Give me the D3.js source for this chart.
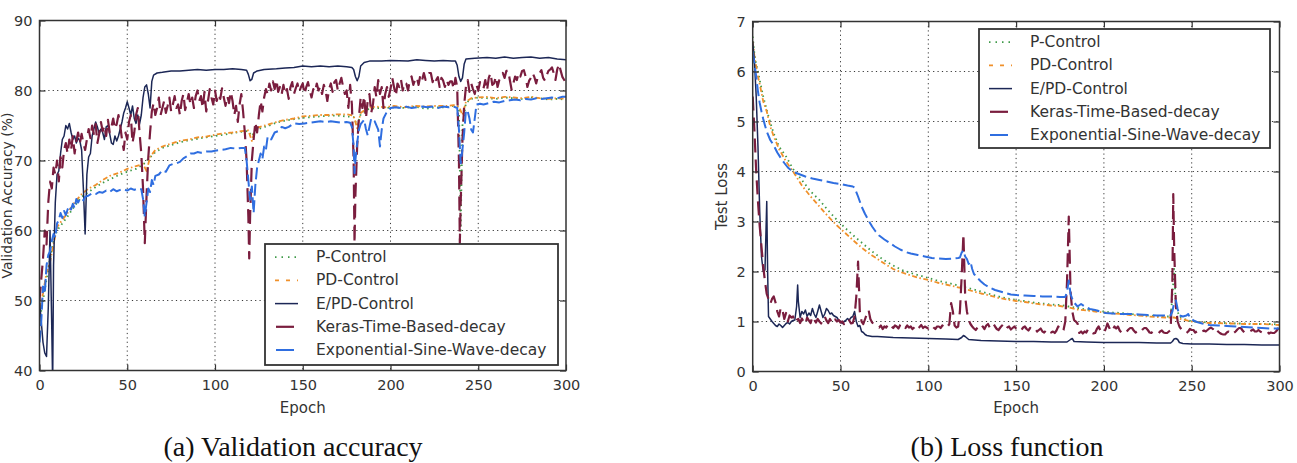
<!DOCTYPE html>
<html><head><meta charset="utf-8">
<script src="https://cdn.jsdelivr.net/npm/d3@7"></script>
<style>body{margin:0;background:#fff;} svg{display:block;}</style>
</head><body>
<svg id="c" width="1297" height="463"></svg>
<script>
// ---------------- DATA ----------------
const seriesNames = ["P-Control","PD-Control","E/PD-Control","Keras-Time-Based-decay","Exponential-Sine-Wave-decay"];
const xTicks = [0,50,100,150,200,250,300];
const accTicks = [40,50,60,70,80,90];
const lossTicks = [0,1,2,3,4,5,6,7];
const captions = ["(a) Validation accuracy","(b) Loss function"];
const axisLabels = {x:"Epoch", acc:"Validation Accuracy (%)", loss:"Test Loss"};

// Validation accuracy (%), [epoch, value]
const accP = [[0,47],[2,50],[4,53],[6,56],[8,58.5],[10,60],[13,61],[16,62],[20,63.5],[24,64.8],[28,65.5],[32,66.2],[36,66.8],[40,67.3],[45,67.9],[50,68.4],[55,68.8],[59,69.4],[62,70.2],[66,71.2],[70,71.8],[75,72.2],[80,72.6],[85,72.9],[90,73.1],[95,73.3],[100,73.5],[105,73.7],[110,73.9],[115,74.1],[119,74.2],[121,73.5],[123,74.3],[127,74.7],[131,75.0],[135,75.4],[140,75.7],[145,75.9],[150,76.1],[155,76.2],[160,76.3],[165,76.4],[170,76.4],[175,76.3],[179,76.2],[181,75.0],[183,76.6],[187,77.3],[192,77.5],[197,77.5],[202,77.6],[208,77.5],[214,77.7],[220,77.4],[226,77.6],[232,77.6],[236,77.8],[239,77.6],[240,60],[241,75],[243,78.2],[246,78.8],[250,79.0],[255,78.9],[260,78.8],[265,79.0],[270,78.9],[275,78.8],[280,79.0],[285,78.9],[290,78.7],[295,78.8],[300,78.7]];
const accPD = [[0,49],[2,51],[4,54],[6,55.5],[8,58],[10,60.5],[13,61.5],[16,62.5],[20,64],[24,65.2],[28,66],[32,66.5],[36,67.2],[40,67.8],[45,68.2],[50,68.8],[55,69.2],[59,69.5],[61,68.5],[63,70.5],[66,71.5],[70,72],[75,72.4],[80,72.8],[85,73],[90,73.3],[95,73.4],[100,73.7],[105,73.9],[110,74],[115,74.2],[119,74.3],[121,72.8],[123,74.6],[127,74.9],[131,75.2],[135,75.5],[140,75.8],[145,76.0],[150,76.3],[155,76.4],[160,76.5],[165,76.5],[170,76.6],[175,76.6],[179,76.4],[181,74.6],[183,76.8],[187,77.5],[192,77.7],[197,77.6],[202,77.8],[208,77.6],[214,77.8],[220,77.7],[226,77.8],[232,77.8],[236,77.9],[239,77.7],[241,76.5],[243,78.4],[246,78.9],[250,79.0],[255,79.1],[260,78.9],[265,79.1],[270,79.0],[275,78.9],[280,79.1],[285,78.9],[290,78.8],[295,78.9],[300,78.8]];
const accEPD = [[0,50],[1,47],[2,44],[3,42.5],[4,42],[5,49],[6,60],[7,46],[7.5,38],[8,55],[9,64],[10,68],[11,68.5],[12,71],[13,73],[14,73.5],[15,75],[16,74.5],[17,75.3],[18,74],[19,73],[20,73.5],[21,72.5],[22,73.2],[23,72.8],[24,71.5],[25,66],[26,59.5],[27,68],[28,70.5],[29,71],[30,73.5],[31,74.5],[32,75.5],[33,74.8],[34,73.8],[35,74.5],[36,74],[37,73],[38,74.8],[39,75],[40,73.8],[41,72.5],[42,72.3],[43,73.5],[44,72.8],[45,73.5],[46,74.5],[47,75.5],[48,76.8],[49,77.5],[50,78.4],[51,77.5],[52,76.5],[53,77.8],[54,76],[55,75.3],[56,76.5],[57,75.2],[58,76.5],[59,79],[60,80.5],[61,80.8],[62,79.5],[63,77.5],[64,81.3],[65,82.2],[67,82.5],[70,82.6],[75,82.8],[80,82.8],[85,82.9],[90,83],[95,82.9],[100,83],[105,83],[110,83.1],[115,83],[118,82.9],[119,82.3],[120,81.4],[121,81.6],[122,82.5],[124,82.8],[128,83.0],[135,83.1],[140,83.2],[145,83.3],[150,83.5],[155,83.4],[160,83.5],[165,83.4],[170,83.5],[175,83.4],[178,83.3],[179,83.0],[180,82.0],[181,81.4],[182,82.0],[183,83.5],[185,84.0],[188,84.2],[195,84.2],[200,84.3],[210,84.2],[215,84.4],[220,84.3],[225,84.2],[230,84.3],[235,84.2],[237,84.2],[238,83.6],[239,82.0],[240,81.3],[241,81.8],[242,83.8],[243,84.5],[248,84.6],[255,84.7],[260,84.6],[265,84.8],[270,84.6],[275,84.7],[280,84.8],[285,84.6],[290,84.7],[295,84.5],[300,84.4]];
const accKeras = [[0,50],[1,53],[2,56],[3,60],[4,58],[5,64],[6,67],[7,66],[8,69],[9,68],[10,70],[11,67],[12,70.5],[13,69],[14,71.5],[15,72.5],[16,71],[17,73],[18,71.5],[19,73.5],[20,71],[21,72.8],[22,74],[23,72.5],[24,73.8],[25,72.5],[26,71.5],[27,73],[28,74.5],[29,73.2],[30,75],[31,73.8],[32,75.2],[33,72.5],[34,73.8],[35,75.5],[36,74.2],[37,75],[38,73.5],[39,75.8],[40,74],[41,74.8],[42,76],[43,74.5],[44,75.2],[45,76.5],[46,75],[47,73],[48,71.5],[49,74],[50,73],[51,75.5],[52,76.5],[53,72.5],[54,74],[55,76.5],[56,77.5],[57,74],[58,71],[59,66],[60,58.2],[61,65],[62,70.5],[63,74],[64,77],[65,78.2],[66,76.5],[67,77.5],[68,79],[69,76.5],[70,77.5],[71,78.5],[72,76.8],[73,77.8],[74,79],[75,77],[76,78],[77,79.2],[78,77.5],[79,78],[80,76.5],[81,78.5],[82,79.5],[83,77.2],[84,78.3],[85,79.5],[86,78],[87,79],[88,77.5],[89,79.2],[90,80],[91,78.5],[92,79.2],[93,77.5],[94,79.8],[95,77],[96,78.5],[97,80.2],[98,79],[99,78],[100,80],[101,78.5],[102,79.5],[103,78.8],[104,80.3],[105,79],[106,77.8],[107,79.2],[108,78.2],[109,79.8],[110,78.5],[111,76.5],[112,77.8],[113,75.5],[114,78],[115,79.5],[116,77],[117,74],[118,70],[119,62],[119.5,56],[120,62],[121,70],[122,73],[123,75.5],[124,74],[125,76.5],[126,78.5],[127,77],[128,79],[129,80.2],[130,79.5],[131,81],[132,80],[133,81.3],[134,80.2],[135,81.5],[136,79.8],[137,80.5],[138,79.5],[139,80.8],[140,79.5],[141,80.2],[142,78.8],[143,80.5],[144,81.2],[145,79.5],[146,80.3],[147,81],[148,79.8],[149,80.5],[150,81],[151,79.5],[152,80.5],[153,81.2],[154,80],[155,79],[156,80.2],[157,79.8],[158,81],[159,80],[160,80.6],[161,79.5],[162,80.8],[163,80],[164,78.5],[165,80.2],[166,81],[167,79.8],[168,81.2],[169,81.5],[170,80],[171,81],[172,81.8],[173,80.5],[174,79.5],[175,80],[176,77.5],[177,80.8],[178,78],[179,70],[179.5,58.2],[180,65],[181,72],[182,76.2],[183,79],[184,77.5],[185,79.2],[186,76],[187,78.5],[188,79.5],[189,76.8],[190,78],[191,80.5],[192,79],[193,81.5],[194,79.5],[195,80.5],[196,77.5],[197,79.5],[198,80.5],[199,79.1],[200,80.2],[201,81.8],[202,80.5],[203,79.2],[204,81],[205,80.5],[206,81.5],[207,80],[208,81.2],[209,81],[210,80],[211,81.5],[212,82],[213,80.8],[214,81.5],[215,81.9],[216,80.8],[217,82.2],[218,81.5],[219,82.5],[220,81.5],[221,82],[222,82.5],[223,82.5],[224,81.2],[225,82],[226,81.5],[227,81.9],[228,80.5],[229,81.8],[230,81.4],[231,80.5],[232,81.5],[233,80.8],[234,81.3],[235,81.3],[236,80.2],[237,81.8],[238,80.5],[239,70],[239.5,58.2],[240,64],[241,73],[242,78],[243,80.6],[244,81.5],[245,79.8],[246,81],[247,80.2],[248,79.5],[249,80.8],[250,80],[251,81.2],[252,80.5],[253,80.3],[254,81.5],[255,80],[256,81.8],[257,82.5],[258,80.8],[259,81],[260,82],[261,80.5],[262,81.5],[263,81.9],[264,82.5],[265,81.8],[266,82.8],[267,82.9],[268,81.5],[269,80.1],[270,81],[271,82],[272,81.5],[273,82.5],[274,82],[275,82.8],[276,82.9],[277,82],[278,80.5],[279,81.4],[280,81.8],[281,82.5],[282,81.9],[283,81],[284,82],[285,82.5],[286,82.9],[287,81.8],[288,81.4],[289,82.2],[290,82.8],[291,83],[292,83.3],[293,82.5],[294,81.5],[295,83],[296,83.8],[297,82.8],[298,81.9],[299,81.5],[300,80.8]];
const accExp = [[0,44],[1,47],[2,52],[3,51],[4,55],[5,56.5],[6,57],[7,58.5],[8,59.5],[9,59],[10,61],[11,61.5],[12,62.5],[13,61.8],[14,62.8],[15,62.2],[16,63],[17,63.5],[18,63],[19,63.8],[20,63.2],[21,64.5],[22,64],[23,64.5],[24,64.6],[25,64.3],[26,64.8],[28,65],[30,65.3],[32,65.2],[34,65.5],[36,65.4],[38,65.7],[40,65.5],[42,65.9],[44,65.6],[46,65.8],[48,65.9],[50,65.7],[52,66],[54,65.8],[56,66],[58,65.9],[59,64.5],[60,62],[61,64],[62,66],[63,65.5],[64,67.2],[65,66.5],[66,67.8],[68,68],[70,68.6],[72,68.4],[74,69.3],[76,69.5],[78,69.6],[80,69.8],[82,70.3],[84,70.6],[86,71],[88,71],[90,71.2],[92,71.1],[95,71.3],[98,71.3],[100,71.4],[103,71.5],[106,71.6],[109,71.8],[112,71.7],[115,71.8],[117,71.8],[118,70],[119,67.2],[120,64.4],[121,66.3],[122,62.5],[123,66.5],[124,69],[125,70],[126,71],[127,70.2],[128,72],[129,71.5],[130,73.4],[132,73],[134,74],[136,74.2],[138,74.8],[140,74.6],[142,74.8],[145,75.3],[148,75.2],[151,75.3],[154,75.4],[157,75.5],[160,75.6],[163,75.5],[166,75.6],[169,75.5],[172,75.4],[175,75.5],[177,75.4],[178,74.8],[179,72],[179.5,68.2],[180,70],[181,72.5],[182,74.4],[183,75.2],[185,75.8],[186,74.5],[187,73.6],[188,74.8],[189,76],[191,75.6],[193,74.4],[194,72],[195,74.4],[196,76],[198,77],[200,77.5],[203,77.6],[206,77.5],[209,77.7],[212,77.5],[215,77.6],[218,77.7],[221,77.6],[224,77.7],[227,77.5],[230,77.7],[233,77.6],[236,77.7],[238,77.5],[239,74.4],[240,69.6],[241,71.6],[242,74],[243,77.2],[244,77],[245,76],[246,74.4],[247,74],[248,76],[249,78],[251,78.1],[253,78],[256,78.2],[259,78.4],[262,78.3],[265,78.5],[268,78.6],[271,78.7],[274,78.6],[277,78.8],[280,78.7],[283,78.9],[286,78.8],[289,78.9],[292,79],[295,78.9],[298,79.1],[300,79.1]];

// Test loss, [epoch, value]
const lossP = [[0,6.7],[1,6.35],[2,6.15],[3,6.0],[4,5.83],[6,5.5],[8,5.23],[10,4.98],[12,4.76],[15,4.5],[19,4.3],[23,4.05],[28,3.83],[33,3.6],[38,3.43],[43,3.22],[48,3.03],[53,2.86],[58,2.7],[63,2.55],[68,2.4],[75,2.22],[80,2.12],[85,2.03],[90,1.97],[95,1.92],[100,1.87],[105,1.82],[110,1.78],[115,1.74],[119,1.7],[121,1.68],[125,1.65],[130,1.6],[135,1.55],[140,1.5],[145,1.46],[150,1.43],[155,1.41],[160,1.38],[165,1.36],[170,1.34],[175,1.33],[180,1.3],[185,1.27],[190,1.24],[195,1.22],[200,1.2],[205,1.18],[210,1.17],[215,1.15],[220,1.13],[225,1.12],[230,1.11],[235,1.1],[238,1.1],[239,1.5],[240,2.05],[241,1.3],[243,1.1],[246,1.05],[250,1.0],[255,0.99],[260,0.98],[265,0.97],[270,0.97],[275,0.96],[280,0.96],[285,0.95],[290,0.95],[295,0.95],[300,0.94]];
const lossPD = [[0,6.6],[1,6.3],[2,6.1],[3,5.9],[4,5.75],[6,5.4],[8,5.2],[10,4.9],[12,4.7],[15,4.45],[19,4.2],[23,4.0],[28,3.72],[33,3.5],[38,3.3],[43,3.1],[48,2.92],[53,2.76],[58,2.6],[63,2.45],[68,2.32],[75,2.16],[80,2.05],[85,1.98],[90,1.92],[95,1.87],[100,1.83],[105,1.78],[110,1.74],[115,1.7],[120,1.66],[125,1.61],[130,1.56],[135,1.52],[140,1.47],[145,1.44],[150,1.41],[155,1.39],[160,1.36],[165,1.34],[170,1.32],[175,1.31],[180,1.28],[185,1.24],[190,1.22],[195,1.2],[200,1.18],[205,1.16],[210,1.15],[215,1.13],[220,1.12],[225,1.1],[230,1.09],[235,1.08],[240,1.08],[245,1.04],[250,1.0],[255,0.98],[260,0.97],[265,0.97],[270,0.96],[275,0.96],[280,0.95],[285,0.95],[290,0.95],[295,0.94],[300,0.93]];
const lossEPD = [[0,6.6],[1,6.2],[2,5.5],[3,4.5],[4,3.2],[5,2.3],[6,2.0],[7,2.03],[8,3.4],[8.5,2.0],[9,1.1],[10,1.05],[11,1.0],[12,0.96],[13,0.92],[14,0.9],[15,0.95],[16,0.92],[17,0.88],[18,0.92],[19,0.96],[20,0.98],[21,0.95],[22,1.0],[23,1.02],[24,1.03],[25,1.3],[25.6,1.73],[26,1.4],[27,1.08],[28,1.2],[29,1.15],[30,1.23],[31,1.1],[32,1.17],[33,1.12],[34,1.26],[35,1.15],[36,1.08],[37,1.2],[38,1.33],[39,1.2],[40,1.08],[41,1.15],[42,1.26],[43,1.22],[44,1.15],[45,1.17],[46,1.12],[47,1.1],[48,1.08],[49,1.02],[50,1.0],[51,0.96],[52,1.0],[53,1.02],[54,1.06],[55,1.03],[56,1.08],[57,1.1],[58,1.2],[59,1.0],[60,0.9],[61,0.92],[62,0.8],[63,0.78],[64,0.74],[65,0.72],[68,0.7],[71,0.7],[80,0.68],[90,0.67],[100,0.66],[110,0.65],[117,0.64],[119,0.68],[120,0.72],[121,0.7],[123,0.64],[130,0.62],[140,0.61],[150,0.6],[160,0.6],[170,0.59],[179,0.59],[181,0.64],[182,0.66],[183,0.6],[190,0.59],[200,0.58],[210,0.58],[220,0.58],[230,0.57],[238,0.57],[239,0.6],[240,0.65],[241,0.66],[242,0.64],[243,0.58],[245,0.56],[250,0.55],[260,0.55],[270,0.54],[280,0.54],[290,0.53],[300,0.53]];
const lossKeras = [[0,5.5],[1,4.8],[2,4.0],[3,3.4],[4,2.9],[5,2.5],[6,2.1],[7,1.8],[8,1.55],[9,1.45],[10,1.35],[11,1.45],[12,1.5],[13,1.38],[14,1.2],[15,1.1],[16,1.28],[17,1.22],[18,1.05],[19,1.17],[20,1.0],[21,1.12],[22,1.08],[23,1.1],[24,0.98],[25,1.03],[26,1.05],[27,0.97],[28,1.06],[29,1.0],[30,0.95],[31,1.08],[32,1.02],[33,0.97],[34,1.1],[35,1.04],[36,0.98],[37,1.05],[38,1.0],[39,0.96],[40,1.06],[41,1.1],[42,1.02],[43,0.97],[44,1.05],[45,0.99],[46,0.96],[47,1.04],[48,1.0],[49,1.03],[50,0.98],[51,1.0],[52,0.95],[53,1.0],[54,0.97],[55,1.02],[56,0.96],[57,0.97],[58,1.1],[59,1.5],[60,2.2],[61,1.2],[62,1.0],[63,0.95],[64,1.05],[65,1.15],[66,1.23],[67,1.05],[68,0.98],[69,0.95],[70,0.93],[71,0.9],[72,0.88],[73,0.92],[74,0.85],[75,0.9],[76,0.88],[77,0.93],[78,0.96],[79,0.9],[80,0.87],[81,0.92],[82,0.9],[83,0.86],[84,0.93],[85,0.96],[86,0.9],[87,0.87],[88,0.92],[89,0.88],[90,0.9],[91,0.85],[92,0.88],[93,0.92],[94,0.86],[95,0.89],[96,0.93],[97,0.87],[98,0.9],[99,0.88],[100,0.86],[101,0.91],[102,0.92],[103,0.88],[104,0.85],[105,0.9],[106,0.9],[107,0.87],[108,0.92],[109,0.88],[110,0.92],[111,0.9],[112,0.95],[113,1.37],[114,1.2],[115,0.92],[116,0.88],[117,0.9],[118,1.2],[119,1.9],[120,2.75],[121,1.5],[122,1.2],[123,1.03],[124,0.95],[125,0.9],[126,0.86],[127,0.83],[128,0.88],[129,0.92],[130,0.87],[131,0.9],[132,0.85],[133,0.92],[134,0.95],[135,0.88],[136,0.92],[137,0.96],[138,0.9],[139,0.85],[140,0.83],[141,0.88],[142,0.92],[143,0.86],[144,0.83],[145,0.88],[146,0.9],[147,0.84],[148,0.87],[149,0.9],[150,0.86],[151,0.82],[152,0.85],[153,0.83],[154,0.88],[155,0.9],[156,0.85],[157,0.82],[158,0.87],[159,0.84],[160,0.82],[161,0.85],[162,0.8],[163,0.83],[164,0.86],[165,0.8],[166,0.78],[167,0.82],[168,0.85],[169,0.8],[170,0.78],[171,0.8],[172,0.77],[173,0.82],[174,0.9],[175,0.85],[176,0.8],[177,0.83],[178,1.0],[179,1.8],[180,3.1],[181,1.6],[182,1.2],[183,1.03],[184,1.0],[185,0.96],[186,0.77],[187,0.8],[188,0.76],[189,0.8],[190,0.78],[191,0.85],[192,0.8],[193,0.78],[194,0.76],[195,0.77],[196,0.85],[197,0.9],[198,0.82],[199,0.78],[200,0.77],[201,0.85],[202,0.96],[203,0.88],[204,0.8],[205,0.84],[206,0.9],[207,0.86],[208,0.9],[209,0.82],[210,0.78],[211,0.8],[212,0.77],[213,0.8],[214,0.84],[215,0.87],[216,0.87],[217,0.82],[218,0.78],[219,0.8],[220,0.77],[221,0.8],[222,0.84],[223,0.87],[224,0.87],[225,0.83],[226,0.78],[227,0.77],[228,0.8],[229,0.78],[230,0.77],[231,0.76],[232,0.8],[233,0.82],[234,0.78],[235,0.77],[236,0.77],[237,0.8],[238,0.83],[239,1.8],[239.5,3.55],[240,2.5],[241,1.3],[242,1.0],[243,0.9],[244,0.85],[245,0.8],[246,0.78],[247,0.77],[248,0.8],[249,0.85],[250,0.83],[251,0.83],[252,0.78],[253,0.8],[254,0.76],[255,0.77],[256,0.8],[257,0.82],[258,0.8],[259,0.83],[260,0.86],[261,0.88],[262,0.85],[263,0.9],[264,0.84],[265,0.8],[266,0.77],[267,0.75],[268,0.74],[269,0.74],[270,0.78],[271,0.8],[272,0.77],[273,0.8],[274,0.77],[275,0.8],[276,0.84],[277,0.87],[278,0.87],[279,0.82],[280,0.78],[281,0.77],[282,0.77],[283,0.8],[284,0.82],[285,0.84],[286,0.8],[287,0.8],[288,0.83],[289,0.8],[290,0.78],[291,0.77],[292,0.77],[293,0.8],[294,0.76],[295,0.78],[296,0.77],[297,0.77],[298,0.8],[299,0.85],[300,0.9]];
const lossExp = [[0,6.4],[1,6.15],[2,5.9],[3,5.6],[4,5.37],[5,5.2],[6,5.05],[7,4.92],[8,4.8],[10,4.63],[12,4.52],[14,4.38],[16,4.27],[18,4.17],[20,4.08],[22,4.02],[24,3.98],[27,3.94],[30,3.9],[34,3.86],[38,3.83],[42,3.8],[46,3.77],[50,3.75],[54,3.72],[57,3.7],[58,3.68],[60,3.5],[62,3.3],[64,3.15],[66,3.02],[68,2.9],[70,2.8],[72,2.72],[75,2.64],[78,2.57],[81,2.5],[84,2.44],[87,2.39],[90,2.36],[94,2.33],[98,2.3],[102,2.27],[106,2.26],[110,2.25],[114,2.26],[117,2.27],[118,2.28],[119,2.38],[120,2.42],[121,2.3],[122,2.25],[123,2.15],[124,2.2],[125,2.05],[126,1.95],[128,1.87],[130,1.8],[132,1.74],[135,1.68],[138,1.63],[141,1.6],[144,1.57],[147,1.54],[150,1.53],[155,1.52],[160,1.51],[165,1.5],[170,1.5],[175,1.49],[178,1.49],[179,1.6],[180,1.82],[181,1.55],[182,1.45],[183,1.38],[185,1.3],[187,1.35],[189,1.3],[192,1.25],[195,1.23],[198,1.2],[201,1.17],[205,1.16],[210,1.15],[215,1.15],[220,1.14],[225,1.13],[230,1.12],[235,1.12],[238,1.12],[239,1.2],[240,1.38],[241,1.42],[242,1.25],[243,1.12],[245,1.1],[247,1.12],[248,1.15],[249,1.08],[251,1.02],[253,0.99],[256,0.96],[260,0.93],[265,0.92],[270,0.91],[275,0.9],[280,0.89],[285,0.88],[290,0.87],[295,0.86],[300,0.86]];

// ---------------- STYLES ----------------
const styles = [
  {color:"#3f9a48", width:1.8, dash:"1.5,3.5", legendDash:"1.5,5"},
  {color:"#f0902a", width:1.8, dash:"5,2.5,1.5,2.5", legendDash:"4,7"},
  {color:"#1c2756", width:1.5, dash:null, legendDash:null},
  {color:"#7a1d3e", width:2.2, dash:"14,7", legendDash:null},
  {color:"#2f6ee0", width:2.0, dash:"12,4.5", legendDash:null}
];

const svg = d3.select("#c");
const FONT = "'DejaVu Sans', sans-serif";
const TXT = "#333";

function panel(cfg){
  const g = svg.append("g");
  const x = d3.scaleLinear().domain([0,300]).range([cfg.left, cfg.right]);
  const y = d3.scaleLinear().domain(cfg.yDomain).range([cfg.bottom, cfg.top]);

  // grid
  const grid = g.append("g").attr("stroke","#222").attr("stroke-width",0.9).attr("stroke-dasharray","1.2,3.2");
  xTicks.slice(1,-1).forEach(t=>grid.append("line").attr("x1",x(t)).attr("x2",x(t)).attr("y1",cfg.top).attr("y2",cfg.bottom));
  cfg.yTicks.slice(1,-1).forEach(t=>grid.append("line").attr("x1",cfg.left).attr("x2",cfg.right).attr("y1",y(t)).attr("y2",y(t)));

  // clip
  const cid = "clip"+cfg.id;
  svg.append("clipPath").attr("id",cid).append("rect")
    .attr("x",cfg.left).attr("y",cfg.top).attr("width",cfg.right-cfg.left).attr("height",cfg.bottom-cfg.top);

  const line = d3.line().x(d=>x(d[0])).y(d=>y(d[1]));
  const lg = g.append("g").attr("clip-path",`url(#${cid})`);
  cfg.series.forEach((s,i)=>{
    const st = styles[i];
    lg.append("path").datum(s).attr("d",line).attr("fill","none")
      .attr("stroke",st.color).attr("stroke-width",st.width)
      .attr("stroke-dasharray",st.dash).attr("stroke-linejoin","round");
  });

  // axes (inward ticks, on all four sides)
  const fmt = d3.format("d");
  const ax = (gen, tr) => {
    const a = g.append("g").attr("transform",tr).call(gen);
    a.select(".domain").remove();
    a.selectAll(".tick line").attr("stroke","#333").attr("stroke-width",1.2);
    a.selectAll("text").attr("font-family",FONT).attr("font-size","14.5px").attr("fill",TXT);
    return a;
  };
  ax(d3.axisBottom(x).tickValues(xTicks).tickFormat(fmt).tickSizeInner(-6).tickSizeOuter(0).tickPadding(9), `translate(0,${cfg.bottom})`);
  ax(d3.axisTop(x).tickValues(xTicks).tickFormat("").tickSizeInner(-6).tickSizeOuter(0), `translate(0,${cfg.top})`);
  ax(d3.axisLeft(y).tickValues(cfg.yTicks).tickFormat(fmt).tickSizeInner(-6).tickSizeOuter(0).tickPadding(7), `translate(${cfg.left},0)`);
  ax(d3.axisRight(y).tickValues(cfg.yTicks).tickFormat("").tickSizeInner(-6).tickSizeOuter(0), `translate(${cfg.right},0)`);

  // frame
  g.append("rect").attr("x",cfg.left).attr("y",cfg.top).attr("width",cfg.right-cfg.left).attr("height",cfg.bottom-cfg.top)
    .attr("fill","none").attr("stroke","#333").attr("stroke-width",1.5);

  // axis labels
  g.append("text").attr("x",(cfg.left+cfg.right)/2).attr("y",413).attr("text-anchor","middle")
    .attr("font-family",FONT).attr("font-size","15px").attr("fill",TXT).text(axisLabels.x);
  g.append("text").attr("transform",`translate(${cfg.yLabelX},${(cfg.top+cfg.bottom)/2}) rotate(-90)`)
    .attr("text-anchor","middle").attr("font-family",FONT).attr("font-size",cfg.yLabelSize).attr("fill",TXT).text(cfg.yLabel);

  // legend
  const L = cfg.legend;
  const leg = g.append("g");
  leg.append("rect").attr("x",L.x).attr("y",L.y).attr("width",L.w).attr("height",L.h)
    .attr("fill","#fff").attr("stroke","#333").attr("stroke-width",1.8);
  seriesNames.forEach((n,i)=>{
    const st = styles[i];
    const cy = L.y + 12.7 + i*23.2;
    leg.append("line").attr("x1",L.x+(i>=3 ? 11 : 10)).attr("x2",L.x+(i>=3 ? 29 : 33))
      .attr("y1",cy+0.5).attr("y2",cy+0.5)
      .attr("stroke",st.color).attr("stroke-width",st.width).attr("stroke-dasharray",st.legendDash);
    leg.append("text").attr("x",L.x+51).attr("y",cy).attr("dy","0.36em")
      .attr("font-family",FONT).attr("font-size","15.5px").attr("fill",TXT).text(n);
  });

  // caption
  svg.append("text").attr("x",cfg.capX).attr("y",456).attr("text-anchor","middle")
    .attr("font-family","'Liberation Serif', 'Times New Roman', serif").attr("font-size","28px").attr("fill","#111").text(cfg.caption);
}

panel({id:"a", left:39.5, right:566, top:20.5, bottom:370.5, yDomain:[40,90], yTicks:accTicks,
  series:[accP,accPD,accEPD,accKeras,accExp], yLabel:axisLabels.acc, yLabelX:12, yLabelSize:"14px",
  legend:{x:265,y:244,w:293,h:121}, caption:captions[0], capX:293});
panel({id:"b", left:752.7, right:1279.5, top:21.5, bottom:371.5, yDomain:[0,7], yTicks:lossTicks,
  series:[lossP,lossPD,lossEPD,lossKeras,lossExp], yLabel:axisLabels.loss, yLabelX:727, yLabelSize:"15px",
  legend:{x:979,y:29,w:291,h:119}, caption:captions[1], capX:1007});
</script>
</body></html>
